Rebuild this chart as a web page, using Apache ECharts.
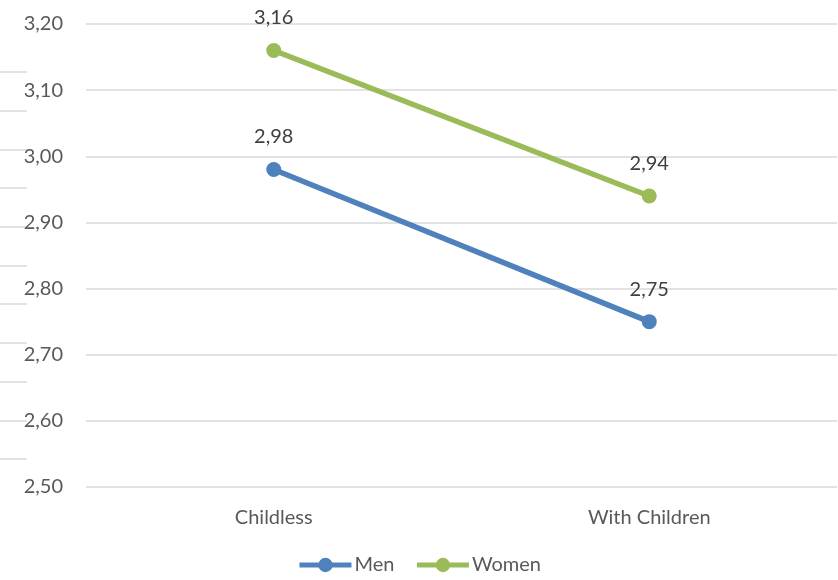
<!DOCTYPE html>
<html>
<head>
<meta charset="utf-8">
<script src="https://cdn.jsdelivr.net/npm/echarts@6/dist/echarts.min.js"></script>
<style>
  html, body { margin: 0; padding: 0; background: #ffffff; }
  #chart { width: 838px; height: 580px; }
</style>
</head>
<body>
<div id="chart"></div>
<script>
// Categories and series values
const categories = ['Childless', 'With Children'];
const menValues = [2.98, 2.75];
const womenValues = [3.16, 2.94];

// Value axis range
const yMin = 2.5;
const yMax = 3.2;
const yStep = 0.1;

const FONT = 'Lato';
const fmt = v => v.toFixed(2).replace('.', ',');

const chart = echarts.init(document.getElementById('chart'), null, { renderer: 'canvas' });

const lineSeries = (name, data, color) => ({
  name,
  type: 'line',
  xAxisIndex: 0,
  yAxisIndex: 0,
  data,
  symbol: 'circle',
  symbolSize: 15,
  lineStyle: { width: 5.5, color },
  itemStyle: { color },
  label: {
    show: true,
    position: 'top',
    distance: 15,
    fontFamily: FONT,
    fontSize: 20,
    color: '#404040',
    formatter: p => fmt(p.value)
  },
  emphasis: { disabled: true },
  z: 3
});

chart.setOption({
  animation: false,
  textStyle: { fontFamily: FONT },
  grid: [
    { left: 86, right: 1, top: 24, bottom: 93 },
    // narrow strip of faint rules on the left edge
    { left: 0, width: 27, top: 72, bottom: 121 }
  ],
  xAxis: [
    {
      gridIndex: 0,
      type: 'category',
      data: categories,
      boundaryGap: true,
      axisLine: { show: false },
      axisTick: { show: false },
      axisLabel: { fontFamily: FONT, fontSize: 20, color: '#595959', margin: 21 }
    },
    {
      gridIndex: 1,
      type: 'value',
      show: false
    }
  ],
  yAxis: [
    {
      gridIndex: 0,
      type: 'value',
      min: yMin,
      max: yMax,
      interval: yStep,
      axisLine: { show: false },
      axisTick: { show: false },
      axisLabel: {
        fontFamily: FONT,
        fontSize: 20,
        color: '#595959',
        margin: 23,
        formatter: v => fmt(v)
      },
      splitLine: { show: true, lineStyle: { color: '#d9d9d9', width: 1.5 } }
    },
    {
      gridIndex: 1,
      type: 'value',
      min: 0,
      max: 10,
      interval: 1,
      axisLine: { show: false },
      axisTick: { show: false },
      axisLabel: { show: false },
      splitLine: { show: true, lineStyle: { color: '#d9d9d9', width: 1.5 } }
    }
  ],
  legend: {
    bottom: 0,
    left: 'center',
    itemWidth: 52,
    itemHeight: 18,
    itemGap: 20,
    lineStyle: { width: 5 },
    textStyle: { fontFamily: FONT, fontSize: 20, color: '#595959', padding: [0, 0, 0, -2] },
    data: ['Men', 'Women']
  },
  series: [
    lineSeries('Men', menValues, '#4f81bd'),
    lineSeries('Women', womenValues, '#9bbb59')
  ]
});
</script>
</body>
</html>
